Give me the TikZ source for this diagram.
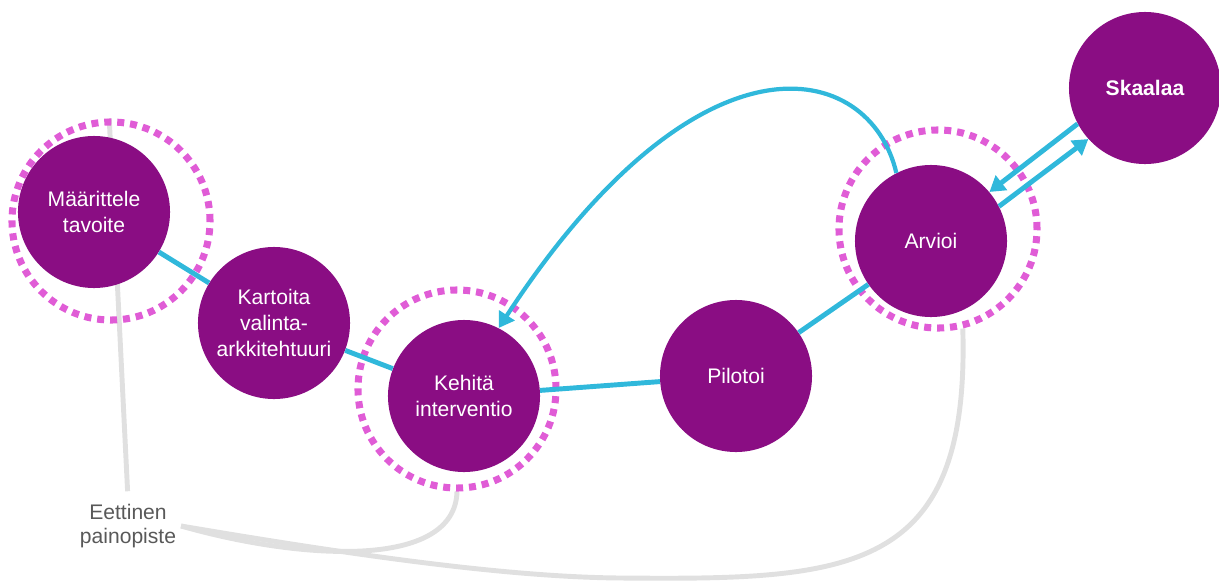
\documentclass[tikz,border=0pt]{standalone}
\usepackage{fontspec}
\setmainfont{Liberation Sans}
\usetikzlibrary{arrows.meta,backgrounds}

\definecolor{lila}{RGB}{138,13,131}
\definecolor{rosa}{RGB}{224,92,214}
\definecolor{tuerkis}{RGB}{48,184,219}
\definecolor{hellgrau}{RGB}{224,224,224}
\definecolor{textgrau}{RGB}{89,89,89}

\begin{document}
\begin{tikzpicture} [x = 0.025cm, y = -0.025cm,
        schritt/.style = {circle, fill = lila, text = white, minimum size = 3.8cm, inner sep = 0pt,
            align = center, font = \fontsize{15}{18.5}\selectfont},
        kreisring/.style = {circle, draw = rosa, line width = 5pt, dash pattern = on 5pt off 4.2pt,
            minimum size = 4.95cm, inner sep = 0pt},
        verbindung/.style = {draw = tuerkis, line width = 3.5pt},
        pfeil/.style = {verbindung, -{Triangle[length = 0.38cm, width = 0.45cm]}},
        ethik/.style = {draw = hellgrau, line width = 3.5pt}]

            \useasboundingbox (0, 0) rectangle (1219, 580);

            % Schritte
            \node [schritt] (maar) at (94, 212) {Määrittele\\tavoite};
            \node [schritt] (kart) at (274, 323) {Kartoita\\valinta-\\arkkitehtuuri};
            \node [schritt] (keh) at (464, 396) {Kehitä\\interventio};
            \node [schritt] (pil) at (736, 376) {Pilotoi};
            \node [schritt] (arv) at (931, 241) {Arvioi};
            \node [schritt, font = \fontsize{15}{18.5}\selectfont\bfseries] (skaa) at (1145, 88) {Skaalaa};

            % Gepunktete Ringe
            \node [kreisring] (ring1) at (111, 221) {};
            \node [kreisring] (ring2) at (457, 389) {};
            \node [kreisring] (ring3) at (938, 229) {};

            % Ethischer Schwerpunkt
            \node [text = textgrau, align = center, font = \fontsize{15}{17}\selectfont] (eet) at (128, 526) {Eettinen\\painopiste};

            \begin{scope} [on background layer]
                \draw [ethik, shorten >= 0.2cm] (ring1.91) -- (eet.north);
                \draw [ethik] (eet.east) .. controls (300, 560) and (455, 570) .. (ring2.south);
                \draw [ethik] (eet.east) .. controls (335, 552) and (500, 577) .. (620, 578)
                    .. controls (850, 580) and (970, 575) .. (ring3.-76);
            \end{scope}

            % Verbindungen
            \draw [verbindung] (maar) -- (kart);
            \draw [verbindung] (kart) -- (keh);
            \draw [verbindung] (keh) -- (pil);
            \draw [verbindung] (pil) -- (arv);

            % Rueckkopplung und Skalierung
            \draw [pfeil, line width = 3pt] (arv.117) .. controls (870, 60) and (700, 20) .. (keh.63);
            \draw [pfeil] (skaa.208) -- (arv.40);
            \draw [pfeil] (arv.27) -- (skaa.222);
        \end{tikzpicture}
\end{document}
